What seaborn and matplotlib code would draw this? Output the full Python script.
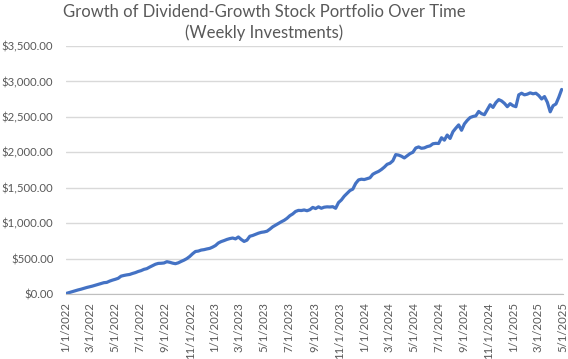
import pandas as pd
import matplotlib.pyplot as plt
import matplotlib.dates as mdates
from matplotlib.ticker import FuncFormatter
import seaborn as sns

# weekly portfolio value, starting the first Monday of 2022
start_date = "2022-01-03"
portfolio_value = [
    10, 22, 34, 46, 58, 68, 80, 92, 102, 112, 124, 136, 148, 160, 164, 182,
    196, 208, 222, 252, 262, 270, 276, 290, 302, 318, 330, 348, 358, 380, 400, 420,
    432, 434, 438, 456, 448, 436, 428, 440, 460, 478, 500, 530, 568, 600, 606, 620,
    626, 636, 644, 662, 684, 720, 740, 754, 770, 782, 790, 778, 805, 770, 742, 760,
    815, 826, 842, 858, 870, 876, 886, 915, 948, 972, 995, 1019, 1040, 1068, 1105, 1130,
    1165, 1180, 1178, 1186, 1175, 1190, 1222, 1206, 1230, 1210, 1225, 1230, 1228, 1232, 1210, 1290,
    1327, 1380, 1421, 1460, 1480, 1560, 1610, 1620, 1615, 1628, 1640, 1690, 1712, 1730, 1757, 1790,
    1830, 1845, 1880, 1967, 1960, 1944, 1920, 1950, 1981, 2000, 2060, 2075, 2056, 2062, 2080, 2090,
    2120, 2126, 2124, 2205, 2171, 2243, 2195, 2290, 2340, 2386, 2310, 2400, 2450, 2490, 2505, 2514,
    2576, 2545, 2530, 2600, 2671, 2633, 2700, 2743, 2724, 2690, 2643, 2686, 2657, 2643, 2810, 2833,
    2810, 2820, 2838, 2825, 2833, 2800, 2752, 2786, 2705, 2571, 2657, 2681, 2776, 2886,
]
y_ticks = [0, 500, 1000, 1500, 2000, 2500, 3000, 3500]
title_lines = ["Growth of Dividend-Growth Stock Portfolio Over Time", "(Weekly Investments)"]

df = pd.DataFrame({
    "Date": pd.date_range(start_date, periods=len(portfolio_value), freq="7D"),
    "Value": portfolio_value,
})

sns.set_style("white")
plt.rcParams["font.family"] = ["Lato", "DejaVu Sans"]
text_gray = "#595959"

fig = plt.figure(figsize=(5.68, 3.59), dpi=100)
ax = fig.add_axes([0.116, 0.181, 0.875, 0.691])

sns.lineplot(data=df, x="Date", y="Value", ax=ax, color="#4472C4", linewidth=2.3)

ax.set_ylim(0, 3500)
ax.set_yticks(y_ticks)
ax.yaxis.set_major_formatter(FuncFormatter(lambda v, p: f"${v:,.2f}"))
ax.set_xlim(pd.Timestamp("2022-01-01"), pd.Timestamp("2025-05-01"))
ax.xaxis.set_major_locator(mdates.MonthLocator(bymonth=[1, 3, 5, 7, 9, 11]))
ax.xaxis.set_major_formatter(FuncFormatter(
    lambda v, p: "{d.month}/{d.day}/{d.year}".format(d=mdates.num2date(v))))

ax.grid(axis="y", color="#d9d9d9", linewidth=1)
ax.set_axisbelow(True)
for s in ["top", "right", "left"]:
    ax.spines[s].set_visible(False)
ax.spines["bottom"].set_color("#bfbfbf")
ax.tick_params(axis="x", direction="out", length=5, color="#bfbfbf",
               labelrotation=90, labelsize=8.2, labelcolor=text_gray, pad=1)
ax.tick_params(axis="y", length=0, labelsize=8.2, labelcolor=text_gray, pad=9)
ax.set_xlabel("")
ax.set_ylabel("")

fig.text(0.465, 1 - 12 / 359, title_lines[0], ha="center", va="center",
         fontsize=12, color=text_gray)
fig.text(0.465, 1 - 33 / 359, title_lines[1], ha="center", va="center",
         fontsize=12, color=text_gray)

fig.savefig("out.png", dpi=100)
